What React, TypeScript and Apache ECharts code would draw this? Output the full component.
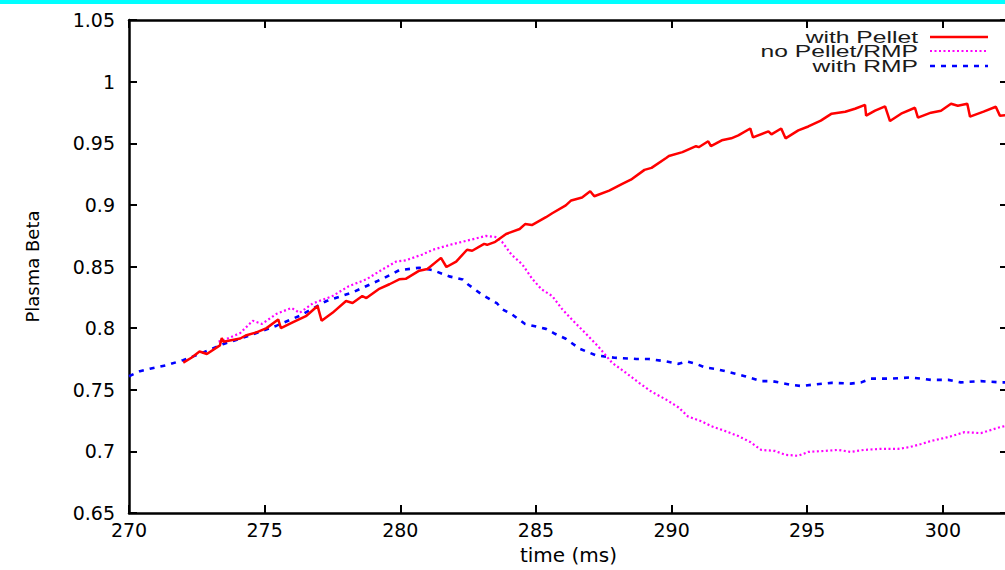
import React, { useEffect, useRef } from "react";
import * as echarts from "echarts";

const xTicks = [270, 275, 280, 285, 290, 295, 300];
const yTickLabels = ["0.65", "0.7", "0.75", "0.8", "0.85", "0.9", "0.95", "1", "1.05"];

const seriesNames = ["with Pellet", "no Pellet/RMP", "with RMP"];

const withPellet: [number, number][] = [
  [272.0, 0.772], [272.3, 0.776], [272.6, 0.781], [272.87, 0.779], [273.35, 0.786], [273.42, 0.792], [273.48, 0.789],
  [274.1, 0.7916], [274.3, 0.794], [274.7, 0.7966], [275.07, 0.8], [275.5, 0.807], [275.6, 0.8], [276.03, 0.8046],
  [276.54, 0.81], [276.95, 0.818], [277.1, 0.806], [277.5, 0.8124], [278.0, 0.822], [278.24, 0.8204], [278.6, 0.826],
  [278.75, 0.8244], [279.2, 0.8316], [279.6, 0.8356], [279.96, 0.8396], [280.2, 0.84], [280.7, 0.8466], [281.0, 0.848],
  [281.5, 0.857], [281.7, 0.8496], [282.06, 0.854], [282.46, 0.8636], [282.65, 0.8628], [283.09, 0.8684], [283.2, 0.8676],
  [283.5, 0.87], [283.9, 0.8764], [284.4, 0.8804], [284.6, 0.8844], [284.85, 0.8836], [285.37, 0.89], [285.6, 0.8932],
  [286.1, 0.8996], [286.3, 0.9036], [286.7, 0.906], [287.0, 0.911], [287.15, 0.907], [287.7, 0.9116], [288.2, 0.9172],
  [288.5, 0.9204], [289.0, 0.9284], [289.26, 0.93], [289.8, 0.938], [289.9, 0.9396], [290.4, 0.9428], [290.9, 0.9476],
  [291.0, 0.9468], [291.35, 0.9516], [291.45, 0.9476], [291.85, 0.9524], [292.2, 0.954], [292.46, 0.9564], [292.9, 0.962],
  [293.0, 0.9548], [293.57, 0.9596], [293.68, 0.9572], [294.04, 0.962], [294.2, 0.954], [294.67, 0.9604], [295.04, 0.9636],
  [295.5, 0.9684], [295.9, 0.974], [296.4, 0.9756], [296.76, 0.978], [297.13, 0.9812], [297.17, 0.9724], [297.5, 0.9764],
  [297.87, 0.98], [298.05, 0.968], [298.46, 0.974], [298.97, 0.9788], [299.08, 0.9708], [299.56, 0.9748], [299.93, 0.9764],
  [300.3, 0.982], [300.55, 0.9804], [300.9, 0.982], [301.0, 0.9716], [301.5, 0.9756], [301.95, 0.9796], [302.1, 0.9724],
  [302.4, 0.973],
];

const noPelletRmp: [number, number][] = [
  [273.3, 0.789], [273.46, 0.79], [274.1, 0.796], [274.56, 0.806], [274.9, 0.8034], [275.44, 0.8116], [275.99, 0.8164],
  [276.29, 0.8124], [276.77, 0.82], [277.5, 0.826], [278.1, 0.834], [278.75, 0.8396], [279.34, 0.8476], [279.85, 0.854],
  [280.2, 0.855], [280.8, 0.8596], [281.2, 0.8636], [281.9, 0.868], [282.65, 0.872], [283.16, 0.8748], [283.5, 0.874],
  [283.75, 0.87], [284.1, 0.8596], [284.5, 0.8516], [284.85, 0.8404], [285.2, 0.8316], [285.6, 0.826], [285.96, 0.8156],
  [286.3, 0.8076], [286.8, 0.7964], [287.3, 0.785], [287.8, 0.772], [288.3, 0.764], [288.8, 0.7556], [289.26, 0.7484],
  [289.8, 0.742], [290.26, 0.7356], [290.6, 0.7284], [291.1, 0.7244], [291.47, 0.7204], [291.99, 0.7164], [292.46, 0.7124],
  [292.9, 0.7076], [293.3, 0.7012], [293.8, 0.7004], [294.2, 0.6972], [294.67, 0.6964], [295.04, 0.6996], [295.66, 0.7004],
  [296.14, 0.7012], [296.6, 0.6996], [297.1, 0.7012], [297.7, 0.702], [298.35, 0.702], [298.8, 0.7036], [299.2, 0.706],
  [299.56, 0.7084], [300.2, 0.7116], [300.8, 0.7156], [301.4, 0.7148], [302.1, 0.7196], [302.4, 0.721],
];

const withRmp: [number, number][] = [
  [270.0, 0.761], [270.4, 0.765], [270.77, 0.767], [271.4, 0.77], [271.99, 0.774], [272.6, 0.779], [273.46, 0.787],
  [274.45, 0.794], [275.44, 0.802], [276.29, 0.81], [277.28, 0.822], [278.24, 0.829], [279.34, 0.84], [279.96, 0.847],
  [280.7, 0.849], [281.2, 0.847], [281.8, 0.842], [282.3, 0.8395], [282.5, 0.8354], [283.0, 0.8274], [283.57, 0.82],
  [283.75, 0.8154], [284.1, 0.8114], [284.6, 0.8034], [285.37, 0.7994], [285.7, 0.7954], [286.1, 0.7914], [286.6, 0.7834],
  [287.2, 0.778], [287.9, 0.776], [288.7, 0.775], [289.15, 0.775], [289.8, 0.773], [290.26, 0.771], [290.56, 0.773],
  [290.9, 0.771], [291.25, 0.768], [291.6, 0.767], [291.99, 0.765], [292.35, 0.763], [292.7, 0.761], [293.3, 0.757],
  [293.7, 0.757], [294.05, 0.7556], [294.4, 0.754], [294.8, 0.753], [295.15, 0.754], [295.9, 0.7556], [296.6, 0.755],
  [296.99, 0.756], [297.35, 0.759], [298.1, 0.759], [298.8, 0.76], [299.2, 0.759], [299.56, 0.758], [300.2, 0.758],
  [300.66, 0.756], [301.4, 0.757], [302.1, 0.756], [302.4, 0.756],
];

const colors = ["#ff0000", "#ff00ff", "#0000ff"];
const lineTypes: any[] = ["solid", [2, 2.5], [5, 6]];
const lineWidths = [2.5, 2.2, 2.6];

export default function App() {
  const ref = useRef<HTMLDivElement>(null);

  useEffect(() => {
    if (!ref.current) return;
    const chart = echarts.init(ref.current, null, { renderer: "svg" });
    const datasets = [withPellet, noPelletRmp, withRmp];

    const axisLine = { show: true, lineStyle: { color: "#000", width: 2.5 } };
    const axisTick = { show: true, inside: true, length: 8, lineStyle: { color: "#000", width: 2 } };
    const tickFont = { fontFamily: "DejaVu Sans", fontSize: 19, color: "#000" };

    const legendRowsY = [37, 51, 66];
    const legendGraphics: any[] = [];
    seriesNames.forEach((name, i) => {
      legendGraphics.push({
        type: "text",
        x: 918,
        y: legendRowsY[i],
        scaleX: 1.45,
        style: {
          text: name,
          font: "17px 'Liberation Sans', Arial, sans-serif",
          fill: "#1a1a1a",
          align: "right",
          verticalAlign: "middle",
          textAlign: "right",
          textVerticalAlign: "middle",
        },
      });
      legendGraphics.push({
        type: "line",
        shape: { x1: 930, y1: legendRowsY[i], x2: 988, y2: legendRowsY[i] },
        style: {
          stroke: colors[i],
          lineWidth: lineWidths[i],
          lineDash: lineTypes[i] === "solid" ? null : lineTypes[i],
        },
      });
    });

    chart.setOption({
      animation: false,
      backgroundColor: "#fff",
      grid: { left: 129, right: 5, top: 20, bottom: 43, containLabel: false },
      xAxis: [
        {
          type: "value",
          min: 270,
          max: 302.4,
          interval: 5,
          position: "bottom",
          name: "time (ms)",
          nameLocation: "middle",
          nameGap: 32,
          nameTextStyle: { fontFamily: "DejaVu Sans", fontSize: 20, color: "#000" },
          axisLine,
          axisTick,
          splitLine: { show: false },
          axisLabel: {
            ...tickFont,
            margin: 7,
            showMaxLabel: false,
            formatter: (v: number) => (xTicks.includes(v) ? String(v) : ""),
          },
        },
        {
          type: "value",
          min: 270,
          max: 302.4,
          interval: 5,
          position: "top",
          axisLine,
          axisTick,
          splitLine: { show: false },
          axisLabel: { show: false },
        },
      ],
      yAxis: [
        {
          type: "value",
          min: 0.65,
          max: 1.05,
          interval: 0.05,
          position: "left",
          name: "Plasma Beta",
          nameLocation: "middle",
          nameGap: 88,
          nameRotate: 90,
          nameTextStyle: { fontFamily: "DejaVu Sans", fontSize: 18, color: "#000" },
          axisLine,
          axisTick,
          splitLine: { show: false },
          axisLabel: {
            ...tickFont,
            margin: 14,
            formatter: (v: number) => {
              const idx = Math.round((v - 0.65) / 0.05);
              return yTickLabels[idx] ?? "";
            },
          },
        },
        {
          type: "value",
          min: 0.65,
          max: 1.05,
          interval: 0.05,
          position: "right",
          axisLine,
          axisTick,
          splitLine: { show: false },
          axisLabel: { show: false },
        },
      ],
      series: seriesNames.map((name, i) => ({
        name,
        type: "line",
        data: datasets[i],
        showSymbol: false,
        symbol: "none",
        lineStyle: { color: colors[i], width: lineWidths[i], type: lineTypes[i] },
        itemStyle: { color: colors[i] },
        z: 3 - i,
      })),
      graphic: [
        {
          type: "rect",
          shape: { x: 0, y: 0, width: 1013, height: 4 },
          style: { fill: "#00ffff" },
        },
        ...legendGraphics,
      ],
    });

    return () => chart.dispose();
  }, []);

  return (
    <div
      style={{
        position: "fixed",
        left: 0,
        top: 0,
        width: 1005,
        height: 570,
        overflow: "hidden",
        background: "#fff",
      }}
    >
      <div ref={ref} style={{ width: 1013, height: 570 }} />
    </div>
  );
}
